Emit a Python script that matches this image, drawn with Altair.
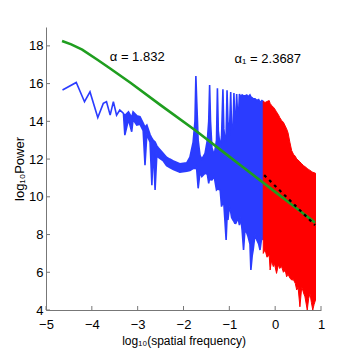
import altair as alt
import pandas as pd

# ---- blue spectrum (x, upper envelope, lower envelope) ----
blue_x = [-4.64, -4.34, -4.16, -4.04, -3.87, -3.75, -3.68, -3.60, -3.53, -3.46, -3.39, -3.31,
          -3.28, -3.20, -3.13, -3.10, -3.02, -2.95, -2.88, -2.84, -2.80, -2.73, -2.69, -2.66,
          -2.62, -2.58, -2.55, -2.44, -2.37, -2.30, -2.22, -2.08, -1.93, -1.86, -1.79, -1.75,
          -1.73, -1.71, -1.68, -1.64, -1.60, -1.53, -1.48, -1.45, -1.43, -1.41, -1.38, -1.33,
          -1.28, -1.26, -1.24, -1.20, -1.17, -1.14, -1.12, -1.09, -1.07, -1.05, -1.03, -1.00,
          -0.97, -0.95, -0.92, -0.90, -0.88, -0.86, -0.84, -0.82, -0.80, -0.78, -0.75, -0.72,
          -0.69, -0.66, -0.62, -0.59, -0.55, -0.53, -0.50, -0.48, -0.44, -0.40, -0.36, -0.33,
          -0.29, -0.26]
blue_top = [15.66, 16.06, 15.04, 15.56, 14.20, 14.95, 15.04, 14.33, 15.04, 14.33, 14.60, 14.42,
            14.30, 14.50, 14.20, 14.50, 14.30, 14.25, 13.90, 13.70, 13.80, 13.30, 13.10, 13.00,
            12.90, 12.70, 12.60, 12.30, 12.10, 12.00, 11.90, 11.75, 11.80, 12.10, 12.90, 14.00,
            16.40, 15.00, 13.00, 12.20, 12.00, 12.30, 13.00, 14.00, 15.92, 14.00, 12.60, 12.20,
            13.00, 15.75, 13.50, 12.60, 13.20, 15.70, 13.60, 12.90, 13.30, 15.65, 14.00, 13.20,
            15.55, 13.60, 13.60, 15.50, 14.00, 14.00, 15.45, 14.30, 14.30, 15.45, 15.30, 15.40,
            15.35, 15.35, 15.40, 15.30, 15.40, 15.30, 15.25, 15.20, 15.20, 15.10, 15.15, 15.00,
            15.10, 15.05]
blue_bot = [15.66, 16.06, 15.04, 15.56, 14.20, 14.95, 15.04, 14.33, 15.04, 14.33, 14.60, 14.42,
            13.27, 14.10, 13.45, 14.10, 13.80, 13.85, 13.50, 11.68, 13.30, 12.90, 10.62, 12.60,
            10.36, 12.30, 12.10, 11.90, 11.65, 11.55, 11.45, 11.30, 11.35, 11.40, 11.50, 11.50,
            11.60, 11.40, 10.45, 11.30, 11.07, 11.25, 11.20, 10.71, 11.00, 10.90, 10.89, 11.07,
            10.36, 10.40, 10.40, 10.36, 9.48, 9.70, 9.65, 8.50, 7.71, 8.90, 8.77, 9.48,
            9.20, 8.90, 8.77, 8.70, 8.60, 8.59, 8.70, 8.80, 8.77, 8.50, 8.90, 8.20,
            7.18, 8.24, 8.10, 7.88, 7.50, 6.12, 6.90, 7.18, 8.00, 7.71, 7.50, 7.18,
            7.90, 7.71]

# ---- red spectrum part ----
red_x = [-0.26, -0.22, -0.18, -0.13, -0.11, -0.08, -0.04, -0.02, 0.03, 0.07, 0.10, 0.14, 0.18,
         0.22, 0.25, 0.28, 0.32, 0.36, 0.40, 0.44, 0.47, 0.50, 0.54, 0.58, 0.62, 0.65, 0.70,
         0.73, 0.76, 0.79, 0.82, 0.85, 0.88]
red_top = [15.05, 15.00, 15.05, 15.10, 14.95, 14.85, 14.75, 14.70, 14.50, 14.35, 14.20, 14.05, 13.95,
           13.75, 13.60, 13.40, 12.90, 12.45, 12.25, 12.15, 12.00, 11.95, 11.85, 11.75, 11.65, 11.60, 11.50,
           11.45, 11.40, 11.35, 11.30, 11.28, 11.25]
red_bot = [7.00, 7.20, 6.80, 6.90, 6.12, 6.60, 6.30, 6.50, 5.94, 6.40, 6.20, 6.30, 6.00,
           6.10, 5.76, 5.90, 5.70, 5.59, 5.60, 5.40, 5.06, 5.20, 4.17, 5.23, 4.90, 4.70, 4.00,
           4.60, 4.88, 4.40, 4.00, 4.30, 4.53]

# ---- fitted curve (green) and high-frequency fit (black dashed) ----
green_x = [-4.65, -4.45, -4.21, -3.87, -3.60, -3.15, -2.50, -1.73, -1.00, -0.77, 0.00, 0.50, 0.87]
green_y = [18.26, 18.08, 17.80, 17.25, 16.80, 16.03, 14.86, 13.50, 12.13, 11.70, 10.26, 9.33, 8.63]
black_x = [-0.24, 0.87]
black_y = [11.15, 8.50]

# ---- annotations and ticks ----
ann_x = [-3.01, -0.16]
ann_y = [17.2, 17.09]
ann_text = ["α = 1.832", "α₁ = 2.3687"]
x_ticks = [-5, -4, -3, -2, -1, 0, 1]
y_ticks = [4, 6, 8, 10, 12, 14, 16, 18]

FONT = "Liberation Sans"
W, H = 275, 283

xs = alt.Scale(domain=[-5, 1], nice=False, zero=False)
ys = alt.Scale(domain=[4, 19], nice=False, zero=False)

blue_df = pd.DataFrame({"x": blue_x, "top": blue_top, "bot": blue_bot})
red_df = pd.DataFrame({"x": red_x, "top": red_top, "bot": red_bot})
green_df = pd.DataFrame({"x": green_x, "y": green_y})
black_df = pd.DataFrame({"x": black_x, "y": black_y})
ann_df = pd.DataFrame({"x": ann_x, "y": ann_y, "t": ann_text})
xt_df = pd.DataFrame({"v": x_ticks})
yt_df = pd.DataFrame({"v": y_ticks})

xaxis = alt.Axis(values=x_ticks, title="log₁₀(spatial frequency)", ticks=False,
                 domainColor="#777777", labelFont=FONT, labelFontSize=13, labelColor="black",
                 labelPadding=8, titleFont=FONT, titleFontSize=12, titleFontWeight="normal",
                 titleColor="black", titleBaseline="alphabetic", titleY=34, grid=False,
                 labelFlush=False)
yaxis = alt.Axis(values=y_ticks, title="log₁₀Power", ticks=False,
                 domainColor="#777777", labelFont=FONT, labelFontSize=13, labelColor="black",
                 labelPadding=3, titleFont=FONT, titleFontSize=13, titleFontWeight="normal",
                 titleColor="black", titleBaseline="alphabetic", titleX=-23, grid=False,
                 labelFlush=False)

blue = alt.Chart(blue_df).mark_area(color="#2b3cff", stroke="#2b3cff", strokeWidth=1.6,
                                    clip=True).encode(
    x=alt.X("x:Q", scale=xs, axis=xaxis),
    y=alt.Y("top:Q", scale=ys, axis=yaxis),
    y2="bot:Q",
)
red = alt.Chart(red_df).mark_area(color="#ff0000", stroke="#ff0000", strokeWidth=1,
                                  clip=True).encode(
    x=alt.X("x:Q", scale=xs), y=alt.Y("top:Q", scale=ys), y2="bot:Q")
green = alt.Chart(green_df).mark_line(color="#1f9e1f", strokeWidth=2.6, clip=True).encode(
    x=alt.X("x:Q", scale=xs), y=alt.Y("y:Q", scale=ys))
black = alt.Chart(black_df).mark_line(color="black", strokeWidth=2.2, strokeDash=[3, 4],
                                      clip=True).encode(
    x=alt.X("x:Q", scale=xs), y=alt.Y("y:Q", scale=ys))
texts = alt.Chart(ann_df).mark_text(font=FONT, fontSize=13, color="black", align="center",
                                    baseline="alphabetic").encode(
    x=alt.X("x:Q", scale=xs), y=alt.Y("y:Q", scale=ys), text="t:N")
xt = alt.Chart(xt_df).mark_rule(color="#777777", strokeWidth=1).encode(
    x=alt.X("v:Q", scale=xs), y=alt.value(H), y2=alt.value(H - 4))
yt = alt.Chart(yt_df).mark_rule(color="#777777", strokeWidth=1).encode(
    y=alt.Y("v:Q", scale=ys), x=alt.value(0), x2=alt.value(4))

chart = alt.layer(blue, red, green, black, texts, xt, yt).properties(
    width=W, height=H,
    autosize=alt.AutoSizeParams(type="none"),
    padding={"left": 38, "top": 19, "right": 17, "bottom": 42},
).configure_view(stroke=None)

chart.save("out.html", embed_options={"renderer": "svg", "actions": False})
